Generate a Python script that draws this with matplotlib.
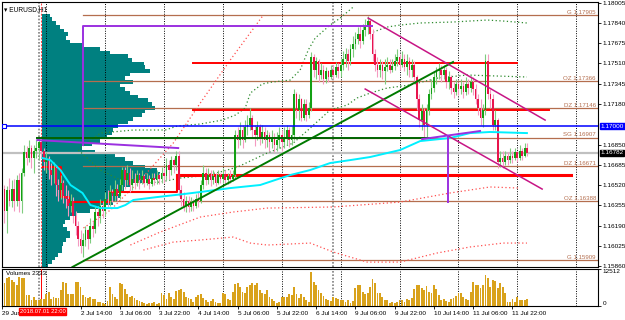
import numpy as np
import matplotlib
matplotlib.use('Agg')
import matplotlib.pyplot as plt
from matplotlib.transforms import blended_transform_factory

plt.rcParams['font.family'] = ['Liberation Sans', 'DejaVu Sans']

# EURUSD H1, one entry per bar (open of each bar = previous close)
open0 = 1.1649
closes = [1.1631, 1.1648, 1.1639, 1.1649, 1.1639, 1.1656, 1.1639, 1.1662, 1.1679, 1.1674,
          1.1682, 1.1674, 1.1680, 1.1682, 1.1687, 1.1680, 1.1671, 1.1674, 1.1664, 1.1660,
          1.1666, 1.1652, 1.1648, 1.1654, 1.1643, 1.1641, 1.1635, 1.1639, 1.1627, 1.1619,
          1.1608, 1.1602, 1.1607, 1.1615, 1.1608, 1.1619, 1.1616, 1.1630, 1.1627, 1.1635,
          1.1631, 1.1641, 1.1639, 1.1646, 1.1643, 1.1649, 1.1643, 1.1652, 1.1664, 1.1656,
          1.1662, 1.1652, 1.1657, 1.1654, 1.1660, 1.1656, 1.1659, 1.1654, 1.1657, 1.1653,
          1.1658, 1.1656, 1.1660, 1.1657, 1.1662, 1.1659, 1.1668, 1.1664, 1.1672, 1.1668,
          1.1676, 1.1648, 1.1641, 1.1635, 1.1639, 1.1634, 1.1638, 1.1635, 1.1641, 1.1639,
          1.1652, 1.1662, 1.1656, 1.1660, 1.1656, 1.1659, 1.1654, 1.1660, 1.1657, 1.1661,
          1.1656, 1.1659, 1.1657, 1.1660, 1.1693, 1.1689, 1.1697, 1.1689, 1.1699, 1.1701,
          1.1707, 1.1697, 1.1693, 1.1699, 1.1690, 1.1695, 1.1689, 1.1693, 1.1687, 1.1690,
          1.1685, 1.1689, 1.1693, 1.1687, 1.1690, 1.1697, 1.1689, 1.1693, 1.1726, 1.1713,
          1.1722, 1.1707, 1.1718, 1.1709, 1.1715, 1.1756, 1.1746, 1.1753, 1.1742, 1.1746,
          1.1738, 1.1745, 1.1740, 1.1746, 1.1742, 1.1748, 1.1745, 1.1750, 1.1755, 1.1759,
          1.1753, 1.1763, 1.1767, 1.1771, 1.1775, 1.1769, 1.1778, 1.1781, 1.1786, 1.1775,
          1.1759, 1.1750, 1.1746, 1.1750, 1.1745, 1.1748, 1.1750, 1.1746, 1.1749, 1.1753,
          1.1756, 1.1750, 1.1755, 1.1748, 1.1753, 1.1746, 1.1750, 1.1740, 1.1722, 1.1705,
          1.1712, 1.1701, 1.1713, 1.1726, 1.1731, 1.1740, 1.1745, 1.1746, 1.1742, 1.1746,
          1.1736, 1.1740, 1.1731, 1.1728, 1.1734, 1.1730, 1.1733, 1.1728, 1.1734, 1.1731,
          1.1736, 1.1730, 1.1722, 1.1715, 1.1707, 1.1713, 1.1753, 1.1726, 1.1722, 1.1701,
          1.1705, 1.1671, 1.1674, 1.1671, 1.1676, 1.1672, 1.1676, 1.1674, 1.1679, 1.1674,
          1.1680, 1.1676, 1.1682, 1.1678]
highs = [1.1652, 1.1651, 1.1658, 1.1656, 1.1657, 1.1660, 1.1662, 1.1666, 1.1685, 1.1684,
         1.1689, 1.1685, 1.1685, 1.1689, 1.1691, 1.1689, 1.1682, 1.1679, 1.1676, 1.1670,
         1.1671, 1.1668, 1.1657, 1.1660, 1.1656, 1.1652, 1.1648, 1.1645, 1.1642, 1.1631,
         1.1623, 1.1615, 1.1613, 1.1619, 1.1616, 1.1625, 1.1623, 1.1635, 1.1635, 1.1641,
         1.1639, 1.1646, 1.1648, 1.1652, 1.1649, 1.1656, 1.1653, 1.1657, 1.1667, 1.1667,
         1.1668, 1.1666, 1.1664, 1.1662, 1.1664, 1.1662, 1.1664, 1.1661, 1.1662, 1.1660,
         1.1662, 1.1662, 1.1664, 1.1662, 1.1667, 1.1666, 1.1674, 1.1672, 1.1676, 1.1674,
         1.1680, 1.1680, 1.1652, 1.1646, 1.1643, 1.1643, 1.1642, 1.1641, 1.1645, 1.1646,
         1.1656, 1.1668, 1.1666, 1.1666, 1.1664, 1.1664, 1.1662, 1.1664, 1.1662, 1.1666,
         1.1664, 1.1662, 1.1664, 1.1664, 1.1697, 1.1699, 1.1703, 1.1701, 1.1705, 1.1709,
         1.1715, 1.1709, 1.1701, 1.1704, 1.1702, 1.1701, 1.1699, 1.1697, 1.1695, 1.1697,
         1.1694, 1.1695, 1.1699, 1.1697, 1.1699, 1.1701, 1.1699, 1.1700, 1.1730, 1.1728,
         1.1726, 1.1723, 1.1722, 1.1722, 1.1720, 1.1760, 1.1759, 1.1756, 1.1755, 1.1751,
         1.1750, 1.1748, 1.1746, 1.1750, 1.1750, 1.1752, 1.1751, 1.1755, 1.1761, 1.1764,
         1.1763, 1.1767, 1.1773, 1.1777, 1.1781, 1.1782, 1.1783, 1.1787, 1.1790, 1.1787,
         1.1779, 1.1763, 1.1756, 1.1755, 1.1753, 1.1755, 1.1756, 1.1755, 1.1755, 1.1759,
         1.1763, 1.1759, 1.1761, 1.1759, 1.1759, 1.1756, 1.1755, 1.1753, 1.1742, 1.1726,
         1.1718, 1.1715, 1.1718, 1.1730, 1.1738, 1.1745, 1.1748, 1.1751, 1.1750, 1.1750,
         1.1748, 1.1745, 1.1742, 1.1736, 1.1738, 1.1736, 1.1738, 1.1736, 1.1740, 1.1738,
         1.1741, 1.1740, 1.1734, 1.1726, 1.1722, 1.1718, 1.1759, 1.1759, 1.1730, 1.1726,
         1.1713, 1.1707, 1.1680, 1.1680, 1.1680, 1.1679, 1.1682, 1.1680, 1.1682, 1.1680,
         1.1685, 1.1682, 1.1686, 1.1686]
lows = [1.1621, 1.1613, 1.1635, 1.1634, 1.1631, 1.1635, 1.1630, 1.1629, 1.1659, 1.1668,
        1.1671, 1.1666, 1.1662, 1.1674, 1.1672, 1.1674, 1.1664, 1.1662, 1.1657, 1.1652,
        1.1654, 1.1643, 1.1639, 1.1641, 1.1637, 1.1633, 1.1627, 1.1630, 1.1621, 1.1611,
        1.1602, 1.1597, 1.1593, 1.1602, 1.1600, 1.1605, 1.1610, 1.1613, 1.1619, 1.1621,
        1.1625, 1.1627, 1.1634, 1.1635, 1.1638, 1.1639, 1.1639, 1.1641, 1.1648, 1.1649,
        1.1652, 1.1646, 1.1648, 1.1649, 1.1651, 1.1649, 1.1653, 1.1650, 1.1652, 1.1649,
        1.1651, 1.1652, 1.1653, 1.1653, 1.1654, 1.1654, 1.1656, 1.1657, 1.1660, 1.1662,
        1.1664, 1.1643, 1.1635, 1.1631, 1.1630, 1.1630, 1.1631, 1.1631, 1.1633, 1.1634,
        1.1637, 1.1649, 1.1652, 1.1653, 1.1651, 1.1653, 1.1651, 1.1653, 1.1654, 1.1654,
        1.1653, 1.1653, 1.1654, 1.1655, 1.1658, 1.1682, 1.1685, 1.1682, 1.1687, 1.1693,
        1.1697, 1.1690, 1.1684, 1.1689, 1.1685, 1.1686, 1.1682, 1.1683, 1.1680, 1.1682,
        1.1679, 1.1680, 1.1682, 1.1680, 1.1682, 1.1685, 1.1683, 1.1685, 1.1689, 1.1707,
        1.1705, 1.1704, 1.1705, 1.1704, 1.1707, 1.1712, 1.1740, 1.1738, 1.1736, 1.1738,
        1.1734, 1.1735, 1.1736, 1.1738, 1.1738, 1.1740, 1.1739, 1.1740, 1.1746, 1.1748,
        1.1746, 1.1750, 1.1756, 1.1763, 1.1767, 1.1764, 1.1767, 1.1773, 1.1775, 1.1771,
        1.1753, 1.1745, 1.1740, 1.1740, 1.1738, 1.1734, 1.1745, 1.1743, 1.1744, 1.1746,
        1.1749, 1.1746, 1.1748, 1.1745, 1.1742, 1.1740, 1.1740, 1.1734, 1.1713, 1.1699,
        1.1697, 1.1691, 1.1690, 1.1709, 1.1722, 1.1728, 1.1734, 1.1738, 1.1736, 1.1738,
        1.1731, 1.1730, 1.1726, 1.1723, 1.1725, 1.1725, 1.1726, 1.1723, 1.1725, 1.1726,
        1.1728, 1.1725, 1.1718, 1.1709, 1.1701, 1.1699, 1.1709, 1.1722, 1.1715, 1.1697,
        1.1697, 1.1666, 1.1667, 1.1666, 1.1668, 1.1668, 1.1670, 1.1670, 1.1672, 1.1671,
        1.1672, 1.1672, 1.1675, 1.1676]
volumes = [7820, 9520, 9860, 8840, 8160, 7140, 9860, 9520, 9520, 3740, 3740, 2040, 3060, 2040, 2040,
           2380, 2380, 4080, 4760, 2380, 3060, 2720, 2720, 5440, 8160, 7820, 4080, 4080, 4080, 8160,
           8160, 6460, 3740, 3060, 2720, 3060, 2380, 2380, 1360, 1360, 1020, 680, 1700, 6460, 4080,
           3060, 2380, 7820, 7480, 5780, 4080, 3060, 3400, 2720, 2040, 1700, 1360, 1020, 680, 1020,
           1020, 1360, 680, 1020, 4420, 3740, 2380, 4420, 3060, 2380, 5100, 5440, 5780, 4760, 3060,
           2720, 2380, 1360, 3060, 3740, 4080, 2720, 2040, 1360, 1700, 2380, 1360, 1020, 1020, 4420,
           4080, 2380, 2040, 4760, 7480, 7820, 6460, 4760, 4420, 6460, 7140, 7820, 7140, 7820, 5440,
           4420, 4080, 5440, 3060, 2380, 1700, 1020, 1360, 3060, 3060, 3060, 4080, 3740, 6460, 4080,
           2720, 4080, 3060, 2040, 1360, 11560, 8160, 7140, 5440, 4420, 3400, 2380, 2040, 1700, 3060,
           2720, 2380, 2040, 2040, 1360, 2040, 1020, 1700, 6120, 7140, 7140, 4760, 4080, 4420, 6460,
           9180, 7820, 4420, 4420, 3060, 2040, 2040, 1020, 1360, 1020, 1360, 2040, 2040, 1360, 2380,
           2040, 2720, 5780, 7140, 7140, 6120, 5440, 6800, 4760, 4420, 7140, 5780, 3740, 2040, 2380,
           1700, 1360, 2380, 2720, 3400, 4420, 4420, 3060, 2380, 2040, 4760, 8160, 7140, 7140, 6120,
           7140, 10540, 9520, 6460, 8840, 8500, 6120, 7820, 6460, 4420, 1360, 1360, 2380, 1360, 3060,
           2040, 2040, 2040, 2333]

# price axis / volume axis
price_ticks = [1.18005, 1.17840, 1.17675, 1.17510, 1.17345, 1.17180, 1.16850, 1.16685,
               1.16520, 1.16355, 1.16190, 1.16025, 1.15860]
vol_max = 12512
time_tick_bars = [-1, 31, 47, 63, 79, 95, 111, 127, 143, 159, 175, 191, 207]
time_tick_labels = ['29 Jun', '2 Jul 14:00', '3 Jul 06:00', '3 Jul 22:00', '4 Jul 14:00',
                    '5 Jul 06:00', '5 Jul 22:00', '6 Jul 14:00', '9 Jul 06:00', '9 Jul 22:00',
                    '10 Jul 14:00', '11 Jul 06:00', '11 Jul 22:00']
day_sep_bars = [17, 41, 65, 89, 113, 137, 161, 185, 209, 233]
week_sep_bars = [14, 134]
cursor_bar = 15

# volume profile: price bins 1.17900 down in 0.0003 steps
profile_top = 1.17900
profile_step = 0.0003
profile_vol = [8, 10, 14, 18, 22, 26, 24, 28, 40, 58, 68, 86, 90, 102, 103, 108, 88, 83, 91, 78,
               83, 88, 96, 106, 110, 113, 103, 100, 91, 86, 76, 71, 70, 65, 58, 50, 40, 53, 73, 83,
               91, 103, 115, 118, 115, 103, 88, 82, 76, 78, 76, 71, 58, 48, 35, 28, 23, 21, 25, 28,
               28, 24, 21, 20, 20, 16, 13, 10, 6]
profile_base_bar = 15.5

# zone levels
zone_names = ['G', 'OZ', 'DZ', 'SG', 'DZ', 'OZ', 'G']
zone_levels = [1.17905, 1.17366, 1.17146, 1.16907, 1.16671, 1.16388, 1.15909]
zone_start_bar = 32.2
level_blue = 1.17000
last_price = 1.16782

red_levels = [1.17514, 1.17131, 1.16601]
red_spans = [(77, 209), (77, 222), (70.4, 231)]
red_widths = [1.4, 1.4, 2.2]
red_step_bars = [15.9, 23.2, 23.2, 26.1, 26.1, 43.2, 43.2, 70.4, 70.4]
red_step_price = [1.16667, 1.16667, 1.16423, 1.16423, 1.16381, 1.16381, 1.16463, 1.16463, 1.16601]

cyan_bars = [15.5, 18.7, 22.8, 26.9, 31.8, 35.0, 39.1, 46.0, 49.3, 52.5, 62.3, 72.9, 79.8, 92.0,
             104.2, 116.4, 124.6, 132.7, 140.9, 149.0, 161.2, 169.4, 181.6, 189.7, 197.9, 212.9]
cyan_price = [1.16740, 1.16723, 1.16642, 1.16520, 1.16455, 1.16357, 1.16332, 1.16332, 1.16357,
              1.16398, 1.16422, 1.16446, 1.16463, 1.16495, 1.16520, 1.16601, 1.16642, 1.16699,
              1.16723, 1.16748, 1.16805, 1.16878, 1.16903, 1.16943, 1.16952, 1.16943]

g1_bars = [30.9, 39.1, 52.5, 65.5, 70.4, 79.8, 88.8, 94.1, 98.1, 100.2, 105.0, 109.1, 116.4,
           120.5, 123.8, 126.6, 132.7, 136.8, 142.1]
g1_price = [1.16821, 1.16943, 1.16968, 1.16968, 1.17000, 1.17017, 1.17049, 1.17090, 1.17147,
            1.17269, 1.17343, 1.17359, 1.17375, 1.17457, 1.17620, 1.17717, 1.17823, 1.17880, 1.17970]
g2_bars = [150.2, 155.9, 161.2, 169.4, 182.8, 196.7, 203.2, 212.9]
g2_price = [1.17766, 1.17807, 1.17823, 1.17840, 1.17848, 1.17864, 1.17856, 1.17840]
g3_bars = [30.1, 39.1, 47.2, 55.4, 63.5, 71.7, 79.8, 87.9, 94.9, 107.1, 117.7, 124.6, 132.7,
           139.7, 143.7, 149.0, 155.9, 165.3, 176.7, 188.5, 212.9]
g3_price = [1.16805, 1.16642, 1.16561, 1.16536, 1.16544, 1.16577, 1.16593, 1.16626, 1.16666,
            1.16781, 1.16862, 1.16984, 1.17131, 1.17172, 1.17229, 1.17269, 1.17310, 1.17335,
            1.17392, 1.17416, 1.17400]

r0_bars = [32.2, 43.2, 55.4, 68.8, 79.8, 92.0, 105.5]
r0_price = [1.16170, 1.16316, 1.16561, 1.16862, 1.17188, 1.17538, 1.17905]
r1_bars = [51.3, 63.5, 79.8, 93.2, 107.1, 134.0, 161.2, 181.6, 197.9, 210.1]
r1_price = [1.16031, 1.16137, 1.16259, 1.16300, 1.16332, 1.16341, 1.16381, 1.16455, 1.16504, 1.16495]
r2_bars = [56.6, 68.8, 79.8, 93.2, 100.2, 107.1, 124.6, 134.0, 147.8, 161.2, 176.3, 189.7, 203.2, 212.9]
r2_price = [1.15990, 1.16055, 1.16072, 1.16096, 1.16047, 1.16031, 1.16047, 1.15974, 1.15892,
            1.15892, 1.15966, 1.16015, 1.16047, 1.16047]

trend_up = [(27.7, 1.15852), (182.8, 1.17522)]
green_flat = [(13.4, 1.16903), (173.5, 1.16903)]
mag_upper = [(148.2, 1.17880), (220.3, 1.17049)]
mag_lower = [(147.0, 1.17302), (219.1, 1.16487)]
purple_box = [(32.2, 1.16846), (32.2, 1.17815), (149.8, 1.17815)]
purple_left = [(13.4, 1.16886), (70.8, 1.16821)]
purple_right = [(170.2, 1.16894), (193.8, 1.16960)]
purple_drop = [(180.8, 1.16911), (180.8, 1.16381)]

brown = '#b46e4e'

fig = plt.figure(figsize=(6.25, 3.2), dpi=100)
ax = fig.add_axes([2/625, 53/320, 596/625, 265/320])
axv = fig.add_axes([2/625, 14/320, 596/625, 37/320], sharex=ax)

x_right = 241.86
ax.set_xlim(-0.81, x_right)
ax.set_ylim(1.15852, 1.18011)

# volume profile
pb = [profile_top - profile_step * k for k in range(len(profile_vol))]
ax.barh(pb, [v / 2.456 for v in profile_vol], height=profile_step, left=profile_base_bar,
        color='#008080', linewidth=0, zorder=1)

# separators
for b in day_sep_bars:
    for a in (ax, axv):
        a.axvline(b, color='black', ls=(0, (1, 1.5)), lw=0.7, zorder=2)
for b in week_sep_bars:
    for a in (ax, axv):
        a.axvline(b, color='#808080', ls=(0, (1, 1)), lw=1.2, zorder=2)
ax.axvline(cursor_bar, color='#ff4040', ls=(0, (2, 1.5)), lw=0.7, zorder=2)
axv.axvline(cursor_bar, color='#ff0000', lw=0.7, zorder=3)

# zone lines
for name, lv in zip(zone_names, zone_levels):
    ax.plot([zone_start_bar, x_right], [lv, lv], color=brown, lw=0.9, zorder=2)
    ax.text(241.0, lv + 0.00003, f'{name} {lv:.5f}', ha='right', va='bottom',
            fontsize=4.4, color=brown, zorder=6)

ax.axhline(last_price, color='#c0c0c0', lw=1.6, zorder=2)
ax.axhline(level_blue, color='#0000ff', lw=1.1, zorder=5)
ax.plot([0.0], [level_blue], marker='s', ms=3, mfc='white', mec='#0000ff', mew=0.8, zorder=6)

# dotted bands
for bx, py in ((g1_bars, g1_price), (g2_bars, g2_price), (g3_bars, g3_price)):
    ax.plot(bx, py, color='#2e8b2e', ls=(0, (1, 2)), lw=0.9, zorder=2)
for bx, py in ((r0_bars, r0_price), (r1_bars, r1_price), (r2_bars, r2_price)):
    ax.plot(bx, py, color='#ff5050', ls=(0, (1, 2)), lw=0.9, zorder=2)

# red levels and step line
for lv, (a, b), w in zip(red_levels, red_spans, red_widths):
    ax.plot([a, b], [lv, lv], color='#ff0000', lw=w, zorder=3)
ax.plot(red_step_bars, red_step_price, color='#ff0000', lw=1.5, zorder=3)

# candles
opens = [open0] + closes[:-1]
for i, (o, h, l, c) in enumerate(zip(opens, highs, lows, closes)):
    up = c >= o
    wick = '#7fcc7f' if up else '#f49ac1'
    body = '#13a013' if up else '#e8144c'
    ax.vlines(i, min(l, o, c), max(h, o, c), color=wick, lw=0.8, zorder=4)
    ax.bar(i, max(abs(c - o), 0.00003), bottom=min(o, c), width=0.7, color=body,
           linewidth=0, zorder=4)

ax.plot(cyan_bars, cyan_price, color='#00f0ff', lw=1.4, zorder=5)

# objects
ax.plot(*zip(*trend_up), color='#007a00', lw=1.4, zorder=5)
ax.plot(*zip(*green_flat), color='#006400', lw=1.4, zorder=5)
ax.plot(*zip(*mag_upper), color='#c71585', lw=1.1, zorder=5)
ax.plot(*zip(*mag_lower), color='#c71585', lw=1.1, zorder=5)
for seg in (purple_box, purple_left, purple_right, purple_drop):
    ax.plot(*zip(*seg), color='#9b30e0', lw=1.4, zorder=5)

# price axis
ax.yaxis.tick_right()
ax.set_yticks(price_ticks)
ax.set_yticklabels([f'{p:.5f}' for p in price_ticks])
ax.tick_params(axis='y', labelsize=4.6, length=2, pad=1.5, width=0.6)
ax.tick_params(axis='x', bottom=False, labelbottom=False)
for s in ax.spines.values():
    s.set_linewidth(0.8)

tr = blended_transform_factory(ax.transAxes, ax.transData)
ax.text(1.004, level_blue, '1.17000', transform=tr, fontsize=4.6, color='white',
        va='center', ha='left', bbox=dict(fc='#0000ff', ec='#0000ff', pad=0.6), zorder=7)
ax.text(1.004, last_price, '1.16782', transform=tr, fontsize=4.6, color='white',
        va='center', ha='left', bbox=dict(fc='black', ec='black', pad=0.6), zorder=7)
ax.text(0.004, 0.985, '\u25be EURUSD,H1', transform=ax.transAxes, fontsize=4.8,
        va='top', ha='left', zorder=7)

# volumes
axv.bar(range(len(volumes)), volumes, width=0.75, color='#d9a21b', linewidth=0, zorder=3)
axv.set_ylim(0, 12580)
axv.yaxis.tick_right()
axv.set_yticks([0, vol_max])
axv.set_yticklabels(['0', str(vol_max)])
axv.tick_params(axis='y', labelsize=4.6, length=2, pad=1.5, width=0.6)
vlabels = axv.get_yticklabels()
vlabels[0].set_verticalalignment('bottom')
vlabels[1].set_verticalalignment('top')
axv.text(0.006, 0.95, 'Volumes 2333', transform=axv.transAxes, fontsize=4.6,
         va='top', ha='left', zorder=7)
for s in axv.spines.values():
    s.set_linewidth(0.8)

axv.set_xticks(time_tick_bars)
axv.set_xticklabels(time_tick_labels)
for lbl in axv.get_xticklabels():
    lbl.set_horizontalalignment('left')
axv.tick_params(axis='x', labelsize=4.6, length=2, pad=1.5, width=0.6)
trv = blended_transform_factory(axv.transData, axv.transAxes)
axv.text(cursor_bar + 0.6, -0.08, '2018.07.01 22:00', transform=trv, fontsize=4.2,
         color='white', ha='center', va='top',
         bbox=dict(fc='#ff0000', ec='#ff0000', pad=0.5), zorder=8, clip_on=False)

fig.savefig('out.png', dpi=100, facecolor='white')
